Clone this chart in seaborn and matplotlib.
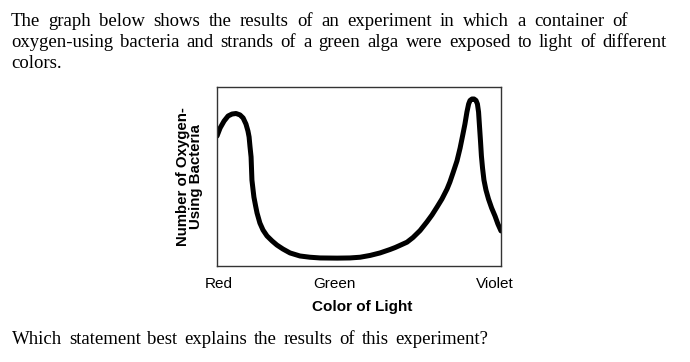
import pandas as pd
import matplotlib
matplotlib.use("Agg")
import matplotlib.pyplot as plt
import seaborn as sns

# Curve: position along the spectrum (0 = red, 100 = far violet)
# and relative number of bacteria (0 = bottom of box, 100 = top of box)
light_pos = [0.0, 1.1, 2.5, 3.9, 5.3, 6.7, 8.1, 9.2, 10.2, 10.9, 11.3, 11.6, 12.0, 12.3,
             12.7, 13.0, 13.6, 14.1, 15.1, 16.2, 17.6, 19.4, 21.1, 23.2, 25.7, 29.2,
             32.7, 36.3, 42.3, 46.8, 50.4, 53.9, 57.4, 60.9, 62.7, 64.4, 66.9, 69.0, 71.5,
             73.9, 75.7, 77.5, 79.2, 81.0, 82.0, 83.1, 84.5, 85.6, 86.6, 87.3, 88.0,
             88.6, 89.1, 89.8, 90.5, 91.2, 91.7, 92.1, 92.4, 92.8, 93.1, 93.5, 94.0,
             94.7, 95.6, 96.7, 97.9, 98.9, 100.0]
bacteria = [72.6, 77.1, 81.0, 83.8, 84.9, 85.2, 84.4, 82.7, 79.3, 75.4, 72.1, 67.0, 60.9, 48.0,
            42.5, 38.5, 33.5, 29.6, 24.0, 20.1, 16.8, 14.0, 11.7, 9.5, 7.3, 5.6,
            4.9, 4.5, 4.4, 4.5, 4.9, 5.9, 7.3, 9.2, 10.3, 11.5, 13.3, 15.9, 19.8,
            24.6, 28.5, 33.0, 37.4, 43.0, 46.9, 52.0, 58.7, 65.9, 73.7, 79.3, 86.0,
            90.5, 92.5, 93.3, 93.3, 92.5, 90.5, 86.0, 78.8, 69.3, 61.5, 54.7, 48.0,
            42.5, 37.4, 32.4, 27.9, 23.5, 19.6]

tick_pos = [0.5, 41.4, 97.9]
tick_names = ["Red", "Green", "Violet"]

intro_lines = [
    "The graph below shows the results of an experiment in which a container of",
    "oxygen-using bacteria and strands of a green alga were exposed to light of different",
    "colors.",
]
question = "Which statement best explains the results of this experiment?"

df = pd.DataFrame({"pos": light_pos, "count": bacteria})

sns.set_style("white")
plt.rcParams["font.family"] = ["Liberation Sans", "DejaVu Sans"]
plt.rcParams["text.color"] = "black"
plt.rcParams["axes.labelcolor"] = "black"
plt.rcParams["xtick.color"] = "black"

W, H = 690, 362
fig = plt.figure(figsize=(W / 100, H / 100), dpi=100)
ax = fig.add_axes([217 / W, 1 - 266 / H, 284 / W, 179 / H])

sns.lineplot(data=df, x="pos", y="count", ax=ax, color="black", linewidth=3.6,
             solid_capstyle="round", solid_joinstyle="round")
ax.set_xlim(0, 100)
ax.set_ylim(0, 100)
ax.set_yticks([])
ax.set_xticks(tick_pos)
ax.set_xticklabels(tick_names, fontsize=11)
ax.tick_params(axis="x", length=0, pad=8)
for s in ax.spines.values():
    s.set_visible(True)
    s.set_color("#333333")
    s.set_linewidth(1.0)

ax.set_xlabel("Color of Light", fontsize=11, fontweight="bold")
ax.xaxis.set_label_coords(0.51, -0.19)
ax.set_ylabel("Number of Oxygen-\nUsing Bacteria", fontsize=10.8, fontweight="bold",
              linespacing=0.95)
ax.yaxis.set_label_coords(-0.048, 0.5)

# serif text lines, spread out word by word like the printed page
renderer = fig.canvas.get_renderer()


def put_line(text, x0, baseline, x1=None):
    words = text.split(" ")
    objs = [fig.text(0, 1 - baseline / H, w, family="Liberation Serif", fontsize=13.5,
                     va="baseline", ha="left", color="black") for w in words]
    widths = [o.get_window_extent(renderer).width for o in objs]
    if x1 is None or len(words) == 1:
        gap = 0.27 * 13.5 * 100 / 72
    else:
        gap = (x1 - x0 - sum(widths)) / (len(words) - 1)
    x = x0
    for o, w in zip(objs, widths):
        o.set_x(x / W)
        x += w + gap


put_line(intro_lines[0], 11, 26, 628)
put_line(intro_lines[1], 11, 47, 667)
put_line(intro_lines[2], 11, 68)
put_line(question, 12, 344, 488)

fig.savefig("out.png", dpi=100)
